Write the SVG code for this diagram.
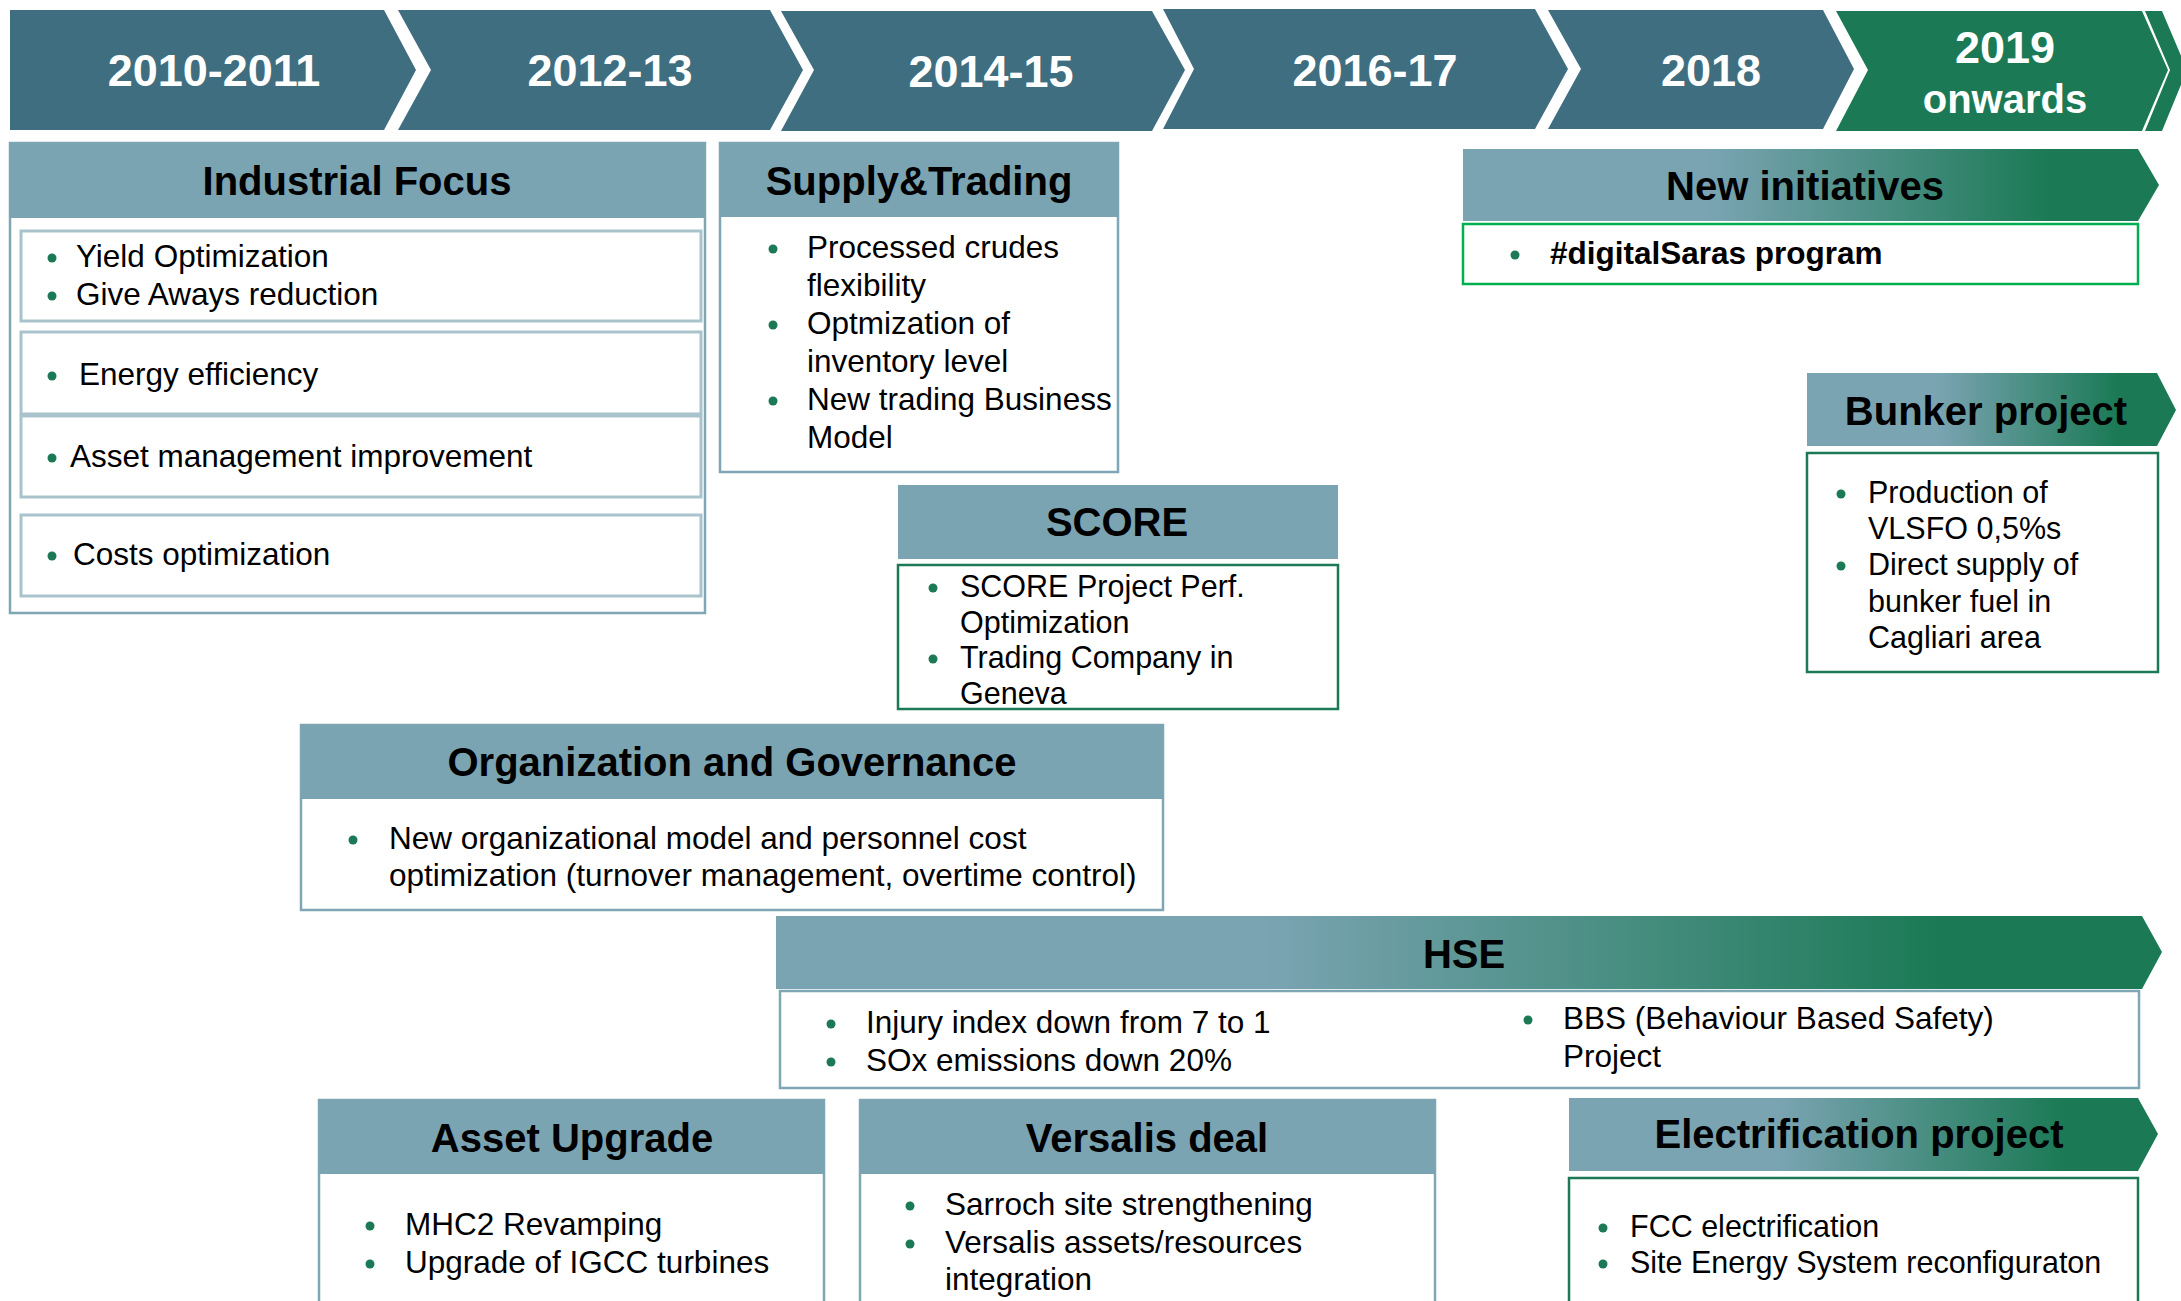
<svg xmlns="http://www.w3.org/2000/svg" width="2181" height="1301" viewBox="0 0 2181 1301">
<defs>
<linearGradient id="hg" x1="0" y1="0" x2="1" y2="0">
<stop offset="0" stop-color="#7BA4B3"/>
<stop offset="0.35" stop-color="#7BA4B3"/>
<stop offset="0.84" stop-color="#1B7A55"/>
<stop offset="1" stop-color="#1B7A55"/>
</linearGradient>
<style>
.yr{fill:#3F6E80}
.yg{fill:#1B7A55}
.yt{font-family:"Liberation Sans",Arial,sans-serif;font-weight:bold;fill:#fff;text-anchor:middle}
.hd{fill:#7BA4B3}
.hg{fill:url(#hg)}
.bx{fill:#fff;stroke:#7FA6B5;stroke-width:2.5}
.bxg{fill:#fff;stroke:#1B7A55;stroke-width:2.5}
.bxb{fill:#fff;stroke:#00B050;stroke-width:2.5}
.ib{fill:#fff;stroke:#A9C3CD;stroke-width:3}
.tt{font-family:"Liberation Sans",Arial,sans-serif;font-weight:bold;font-size:40px;fill:#000;text-anchor:middle}
.b{font-family:"Liberation Sans",Arial,sans-serif;font-size:31.5px;fill:#000}
.s{font-size:30.5px}
.bd{font-weight:bold}
.dot{fill:#1B7A55}
</style>
</defs>
<rect width="2181" height="1301" fill="#fff"/>

<g id="timeline">
<polygon class="yr" points="10,10 384,10 416,70 384,130 10,130"/>
<polygon class="yr" points="398,10 770,10 803,70 770,130 398,130 431,70"/>
<polygon class="yr" points="781,11 1152,11 1185,70 1152,131 781,131 814,70"/>
<polygon class="yr" points="1163,9 1535,9 1568,69 1535,129 1163,129 1194,69"/>
<polygon class="yr" points="1548,10 1823,10 1854,69 1823,129 1548,129 1581,69"/>
<polygon class="yg" points="1836,11 2142,11 2168,70 2142,131 1836,131 1868,70"/>
<polygon class="yg" points="2145,11 2162,11 2187,70 2162,131 2145,131 2170,70"/>
<text class="yt" x="214" y="86" font-size="45">2010-2011</text>
<text class="yt" x="610" y="86" font-size="45">2012-13</text>
<text class="yt" x="991" y="87" font-size="45">2014-15</text>
<text class="yt" x="1375" y="86" font-size="45">2016-17</text>
<text class="yt" x="1711" y="86" font-size="45">2018</text>
<text class="yt" x="2005" y="63" font-size="45">2019</text>
<text class="yt" x="2005" y="113" font-size="40">onwards</text>
</g>

<g id="industrial-focus">
<rect class="bx" x="10" y="143" width="695" height="470"/>
<rect class="hd" x="10" y="143" width="695" height="75"/>
<text class="tt" x="357" y="195">Industrial Focus</text>
<rect class="ib" x="21" y="231" width="680" height="90"/>
<rect class="ib" x="21" y="332" width="680" height="82"/>
<rect class="ib" x="21" y="416" width="680" height="81"/>
<rect class="ib" x="21" y="515" width="680" height="81"/>
<circle class="dot" cx="52" cy="258" r="4.5"/>
<circle class="dot" cx="52" cy="296" r="4.5"/>
<circle class="dot" cx="52" cy="376" r="4.5"/>
<circle class="dot" cx="52" cy="458" r="4.5"/>
<circle class="dot" cx="52" cy="556" r="4.5"/>
<text class="b" x="76" y="267">Yield Optimization</text>
<text class="b" x="76" y="305">Give Aways reduction</text>
<text class="b" x="79" y="385">Energy efficiency</text>
<text class="b" x="70" y="467">Asset management improvement</text>
<text class="b" x="73" y="565">Costs optimization</text>
</g>

<g id="supply-trading">
<rect class="bx" x="720" y="143" width="398" height="329"/>
<rect class="hd" x="720" y="143" width="398" height="74"/>
<text class="tt" x="919" y="195">Supply&amp;Trading</text>
<circle class="dot" cx="773" cy="249" r="4.5"/>
<circle class="dot" cx="773" cy="325" r="4.5"/>
<circle class="dot" cx="773" cy="401" r="4.5"/>
<text class="b" x="807" y="258">Processed crudes</text>
<text class="b" x="807" y="296">flexibility</text>
<text class="b" x="807" y="334">Optmization of</text>
<text class="b" x="807" y="372">inventory level</text>
<text class="b" x="807" y="410">New trading Business</text>
<text class="b" x="807" y="448">Model</text>
</g>

<g id="score">
<rect class="hd" x="898" y="485" width="440" height="74"/>
<text class="tt" x="1117" y="536">SCORE</text>
<rect class="bxg" x="898" y="565" width="440" height="144"/>
<circle class="dot" cx="933" cy="588" r="4.5"/>
<circle class="dot" cx="933" cy="659" r="4.5"/>
<text class="b s" x="960" y="597">SCORE Project Perf.</text>
<text class="b s" x="960" y="633">Optimization</text>
<text class="b s" x="960" y="668">Trading Company in</text>
<text class="b s" x="960" y="704">Geneva</text>
</g>

<g id="new-initiatives">
<polygon class="hg" points="1463,149 2138,149 2159,185 2138,221 1463,221"/>
<text class="tt" x="1805" y="200">New initiatives</text>
<rect class="bxb" x="1463" y="224" width="675" height="60"/>
<circle class="dot" cx="1515" cy="255" r="4.5"/>
<text class="b bd" x="1550" y="264">#digitalSaras program</text>
</g>

<g id="bunker-project">
<polygon class="hg" points="1807,373 2157,373 2176,410 2157,446 1807,446"/>
<text class="tt" x="1986" y="425">Bunker project</text>
<rect class="bxg" x="1807" y="453" width="351" height="219"/>
<circle class="dot" cx="1841" cy="494" r="4.5"/>
<circle class="dot" cx="1841" cy="566" r="4.5"/>
<text class="b s" x="1868" y="503">Production of</text>
<text class="b s" x="1868" y="539">VLSFO 0,5%s</text>
<text class="b s" x="1868" y="575">Direct supply of</text>
<text class="b s" x="1868" y="612">bunker fuel in</text>
<text class="b s" x="1868" y="648">Cagliari area</text>
</g>

<g id="organization-governance">
<rect class="bx" x="301" y="725" width="862" height="185"/>
<rect class="hd" x="301" y="725" width="862" height="74"/>
<text class="tt" x="732" y="776">Organization and Governance</text>
<circle class="dot" cx="353" cy="840" r="4.5"/>
<text class="b" x="389" y="849">New organizational model and personnel cost</text>
<text class="b" x="389" y="886">optimization (turnover management, overtime control)</text>
</g>

<g id="hse">
<polygon class="hg" points="776,916 2142,916 2162,952 2142,989 776,989"/>
<text class="tt" x="1464" y="968">HSE</text>
<rect class="bx" x="780" y="991" width="1359" height="97"/>
<circle class="dot" cx="831" cy="1024" r="4.5"/>
<circle class="dot" cx="831" cy="1062" r="4.5"/>
<circle class="dot" cx="1528" cy="1020" r="4.5"/>
<text class="b" x="866" y="1033">Injury index down from 7 to 1</text>
<text class="b" x="866" y="1071">SOx emissions down 20%</text>
<text class="b" x="1563" y="1029">BBS (Behaviour Based Safety)</text>
<text class="b" x="1563" y="1067">Project</text>
</g>

<g id="asset-upgrade">
<rect class="bx" x="319" y="1100" width="505" height="260"/>
<rect class="hd" x="319" y="1100" width="505" height="74"/>
<text class="tt" x="572" y="1152">Asset Upgrade</text>
<circle class="dot" cx="370" cy="1226" r="4.5"/>
<circle class="dot" cx="370" cy="1264" r="4.5"/>
<text class="b" x="405" y="1235">MHC2 Revamping</text>
<text class="b" x="405" y="1273">Upgrade of IGCC turbines</text>
</g>

<g id="versalis-deal">
<rect class="bx" x="860" y="1100" width="575" height="260"/>
<rect class="hd" x="860" y="1100" width="575" height="74"/>
<text class="tt" x="1147" y="1152">Versalis deal</text>
<circle class="dot" cx="910" cy="1206" r="4.5"/>
<circle class="dot" cx="910" cy="1244" r="4.5"/>
<text class="b" x="945" y="1215">Sarroch site strengthening</text>
<text class="b" x="945" y="1253">Versalis assets/resources</text>
<text class="b" x="945" y="1290">integration</text>
</g>

<g id="electrification-project">
<polygon class="hg" points="1569,1098 2138,1098 2158,1134 2138,1171 1569,1171"/>
<text class="tt" x="1859" y="1148">Electrification project</text>
<rect class="bxg" x="1569" y="1178" width="569" height="200"/>
<circle class="dot" cx="1603" cy="1228" r="4.5"/>
<circle class="dot" cx="1603" cy="1264" r="4.5"/>
<text class="b s" x="1630" y="1237">FCC electrification</text>
<text class="b s" x="1630" y="1273">Site Energy System reconfiguraton</text>
</g>

<g id="connectors"/>
</svg>
